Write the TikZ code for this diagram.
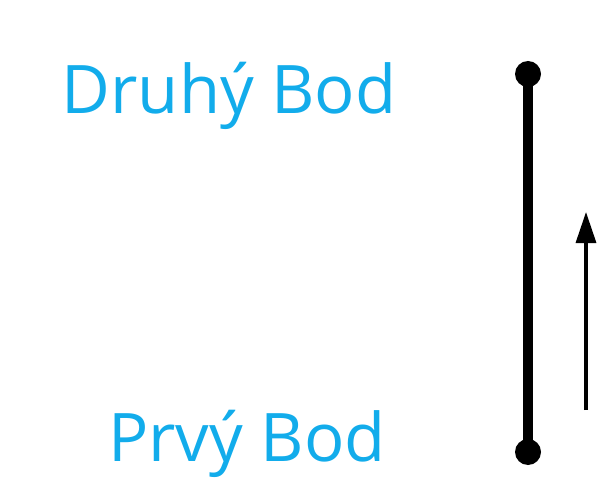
\documentclass[tikz,border=0pt]{standalone}
\usepackage{fontspec}
\setmainfont{Open Sans}
\usepackage{tikz}
\usetikzlibrary{arrows.meta, positioning}
\definecolor{bodcyan}{RGB}{18,172,235}

\begin{document}
\begin{tikzpicture}[
  x=1pt, y=-1pt,
  lbl/.style={anchor=base, text=bodcyan, inner sep=0pt,
              font=\fontsize{67}{67}\selectfont},
  dot/.style={circle, fill=black, minimum size=26pt, inner sep=0pt},
  seg/.style={line width=10pt},
  arr/.style={line width=3.3pt, -{Triangle[length=31pt, width=20pt]}},
]
  \useasboundingbox (0,0) rectangle (600,500);
  \node[lbl] (druhy) at (229,114) {Druhý Bod};
  \node[lbl] (prvy) at (247,461) {Prvý Bod};

  \node[dot] (top) at (528,74) {};
  \node[dot] (bot) at (528,452) {};
  \draw[seg] (bot.center) -- (top.center);

  \coordinate (from) at (586,410);
  \coordinate (to) at (586,212);
  \draw[arr] (from) -- (to);
\end{tikzpicture}
\end{document}
